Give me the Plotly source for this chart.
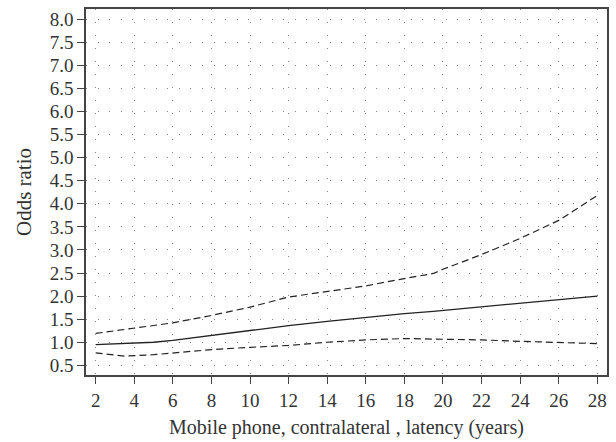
import plotly.graph_objects as go

latency = [2, 3.5, 5, 6, 8, 10, 12, 14, 16, 18, 19.5, 20, 22, 24, 26, 28]
odds_ratio = [0.95, 0.97, 1.0, 1.04, 1.15, 1.25, 1.36, 1.45, 1.54, 1.62, 1.67, 1.69, 1.77, 1.85, 1.93, 2.0]
upper_ci = [1.19, 1.28, 1.37, 1.42, 1.58, 1.76, 1.98, 2.1, 2.22, 2.38, 2.49, 2.58, 2.9, 3.25, 3.64, 4.18]
lower_ci = [0.77, 0.70, 0.73, 0.77, 0.84, 0.89, 0.93, 1.0, 1.05, 1.08, 1.07, 1.07, 1.05, 1.02, 0.99, 0.97]

ink = "#222222"
fig = go.Figure()

fig.add_trace(go.Scatter(x=latency, y=upper_ci, mode="lines",
                         line=dict(color=ink, width=1.2, dash="7px,4px"), name="upper"))
fig.add_trace(go.Scatter(x=latency, y=odds_ratio, mode="lines",
                         line=dict(color=ink, width=1.3), name="OR"))
fig.add_trace(go.Scatter(x=latency, y=lower_ci, mode="lines",
                         line=dict(color=ink, width=1.2, dash="7px,4px"), name="lower"))

axis_common = dict(
    showline=True, linecolor="#444444", linewidth=1.5, mirror=True,
    ticks="outside", ticklen=7, tickcolor="#444444", tickwidth=1.2,
    showgrid=True, gridcolor="#888888", gridwidth=1, zeroline=False,
    tickfont=dict(family="Liberation Serif", size=19, color="#333333"),
)

fig.update_layout(
    width=616, height=442,
    margin=dict(l=86, r=9, t=7, b=66),
    plot_bgcolor="white", paper_bgcolor="white",
    showlegend=False,
    font=dict(family="Liberation Serif", size=19, color="#333333"),
    xaxis=dict(axis_common, range=[1.5, 28.5], dtick=2, tick0=2,
               griddash="1px,12px",
               title=dict(text="Mobile phone, contralateral , latency (years)",
                          font=dict(size=20), standoff=10)),
    yaxis=dict(axis_common, range=[0.29, 8.22], dtick=0.5, tick0=0.5,
               tickformat=".1f", griddash="1px,10.6px",
               title=dict(text="Odds ratio", font=dict(size=21), standoff=12)),
)

# drop the default page margin so the figure fills the window exactly
fig.write_html("out.html", config={"displayModeBar": False},
               post_script="document.body.style.margin='0';")
